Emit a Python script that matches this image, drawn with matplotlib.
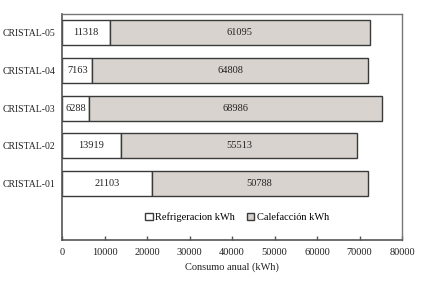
import matplotlib
matplotlib.use("Agg")
import matplotlib.pyplot as plt
from matplotlib.patches import Patch

categories = ["CRISTAL-01", "CRISTAL-02", "CRISTAL-03", "CRISTAL-04", "CRISTAL-05"]
refrigeracion = [21103, 13919, 6288, 7163, 11318]
calefaccion = [50788, 55513, 68986, 64808, 61095]
xticks = [0, 10000, 20000, 30000, 40000, 50000, 60000, 70000, 80000]

plt.rcParams['font.family'] = ['Liberation Serif', 'DejaVu Serif']
fig = plt.figure(figsize=(4.24, 2.82), dpi=100)
ax = fig.add_axes([62/424, 1-240/282, 340/424, 226/282])

pos = list(range(1, len(categories)+1))
edge = '#3a3a3a'
fs = 7.5
ax.barh(pos, refrigeracion, height=0.66, color='white', edgecolor=edge, linewidth=1.0)
ax.barh(pos, calefaccion, left=refrigeracion, height=0.66, color='#d9d3cf', edgecolor=edge, linewidth=1.0)

for p, r, c in zip(pos, refrigeracion, calefaccion):
    ax.text(r/2, p, str(r), ha='center', va='center', fontsize=fs, color='#222222')
    ax.text(r + c/2, p, str(c), ha='center', va='center', fontsize=fs, color='#222222')

ax.set_xlim(0, 80000)
ax.set_ylim(-0.5, 5.5)
ax.set_yticks(pos)
ax.set_yticklabels(categories, fontsize=7, color='#222222')
ax.set_xticks(xticks)
ax.set_xticklabels([str(x) for x in xticks], fontsize=fs, color='#222222')
ax.tick_params(axis='y', length=0, pad=5)
ax.tick_params(axis='x', direction='in', length=3, width=1, color='#555555', pad=6)
ax.set_xlabel("Consumo anual (kWh)", fontsize=fs, color='#222222', labelpad=4)

for s in ['left', 'bottom']:
    ax.spines[s].set_color('#555555')
    ax.spines[s].set_linewidth(1.2)
for s in ['top', 'right']:
    ax.spines[s].set_color('#777777')
    ax.spines[s].set_linewidth(1.0)

handles = [Patch(facecolor='white', edgecolor=edge, label='Refrigeracion kWh'),
           Patch(facecolor='#d9d3cf', edgecolor=edge, label='Calefacción kWh')]
ax.legend(handles=handles, loc='center', bbox_to_anchor=(0.515, 0.1), ncol=2, frameon=False,
          fontsize=fs, handlelength=0.7, handleheight=0.7, handletextpad=0.2, columnspacing=1.2)

fig.savefig("out.png", dpi=100)
